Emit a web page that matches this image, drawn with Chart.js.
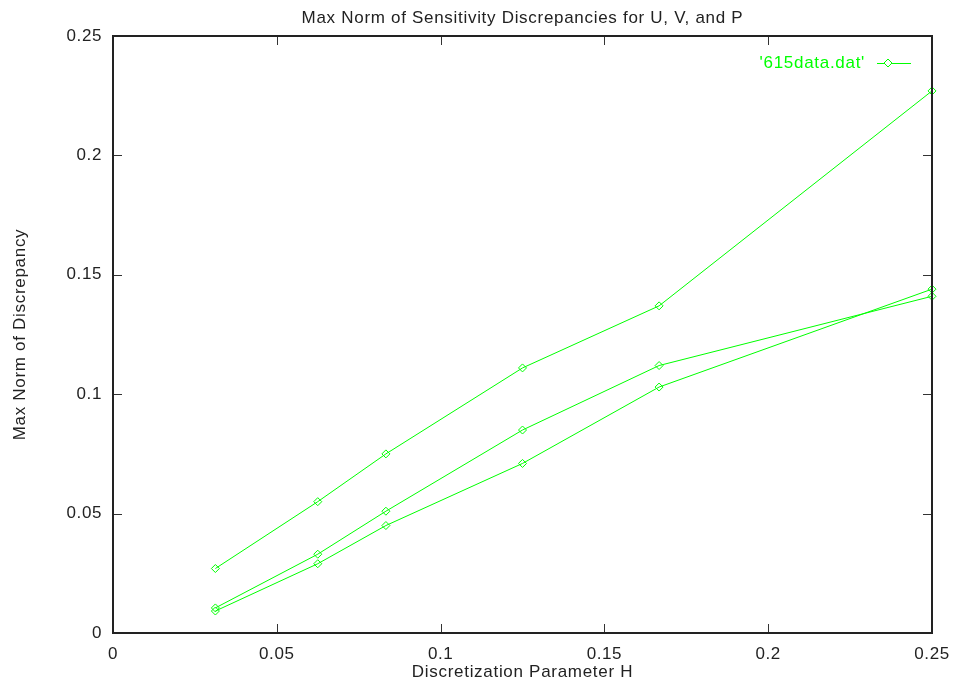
<!DOCTYPE html>
<html>
<head>
<meta charset="utf-8">
<title>Max Norm of Sensitivity Discrepancies</title>
<script src="https://cdn.jsdelivr.net/npm/chart.js@4.4.1/dist/chart.umd.min.js"></script>
<style>
    html, body { margin: 0; padding: 0; background: #ffffff; }
    canvas { display: block; }
</style>
</head>
<body>
<canvas id="chart" width="953" height="685"></canvas>
<script>
// Discretization parameter H (x values)
const hValues = [0.03125, 0.0625, 0.0833, 0.125, 0.1667, 0.25];

// Three blocks of '615data.dat' (one per variable)
const blockU = [0.027, 0.055, 0.075, 0.111, 0.137, 0.227];
const blockV = [0.0105, 0.033, 0.051, 0.085, 0.112, 0.141];
const blockP = [0.0092, 0.029, 0.045, 0.071, 0.103, 0.144];

// Tick labels
const xTicks = [0, 0.05, 0.1, 0.15, 0.2, 0.25];
const yTicks = [0, 0.05, 0.1, 0.15, 0.2, 0.25];

const GREEN = '#00ff00';
const TEXT = '#222222';
const FONT = '"Liberation Sans", Arial, sans-serif';

// gnuplot separates blocks with blank lines -> gaps in one dataset
function buildPoints(blocks) {
    const pts = [];
    blocks.forEach((block, i) => {
        if (i > 0) pts.push({ x: hValues[hValues.length - 1], y: null });
        block.forEach((v, j) => pts.push({ x: hValues[j], y: v }));
    });
    return pts;
}

// Frame, inward ticks, titles and key, drawn like gnuplot
const gnuplotDecor = {
    id: 'gnuplotDecor',
    afterDraw(chart) {
        const { ctx, chartArea: a, scales } = chart;
        const tick = 9;
        ctx.save();

        // inward ticks on all four sides
        ctx.strokeStyle = '#333333';
        ctx.lineWidth = 1;
        ctx.beginPath();
        xTicks.forEach(v => {
            const px = Math.round(scales.x.getPixelForValue(v)) + 0.5;
            ctx.moveTo(px, a.bottom); ctx.lineTo(px, a.bottom - tick);
            ctx.moveTo(px, a.top); ctx.lineTo(px, a.top + tick);
        });
        yTicks.forEach(v => {
            const py = Math.round(scales.y.getPixelForValue(v)) + 0.5;
            ctx.moveTo(a.left, py); ctx.lineTo(a.left + tick, py);
            ctx.moveTo(a.right, py); ctx.lineTo(a.right - tick, py);
        });
        ctx.stroke();

        // border
        ctx.strokeStyle = '#222222';
        ctx.lineWidth = 2;
        ctx.strokeRect(a.left, a.top, a.right - a.left, a.bottom - a.top);

        // titles
        ctx.fillStyle = TEXT;
        ctx.font = '17px ' + FONT;
        ctx.letterSpacing = '0.7px';
        ctx.textAlign = 'center';
        ctx.textBaseline = 'middle';
        const cx = (a.left + a.right) / 2;
        ctx.fillText('Max Norm of Sensitivity Discrepancies for U, V, and P', cx, 18);
        ctx.fillText('Discretization Parameter H', cx, 672);

        ctx.save();
        ctx.translate(20, (a.top + a.bottom) / 2);
        ctx.rotate(-Math.PI / 2);
        ctx.fillText('Max Norm of Discrepancy', 0, 0);
        ctx.restore();

        // key: text, then line sample with marker
        const ds = chart.data.datasets[0];
        const ky = 63;
        ctx.fillStyle = GREEN;
        ctx.textAlign = 'right';
        ctx.fillText(ds.label, 865, ky);

        ctx.strokeStyle = GREEN;
        ctx.lineWidth = 1;
        ctx.beginPath();
        ctx.moveTo(877, ky + 0.5);
        ctx.lineTo(911, ky + 0.5);
        ctx.stroke();

        const mx = 888, r = 4;
        ctx.beginPath();
        ctx.moveTo(mx, ky - r);
        ctx.lineTo(mx + r, ky);
        ctx.lineTo(mx, ky + r);
        ctx.lineTo(mx - r, ky);
        ctx.closePath();
        ctx.fillStyle = '#ffffff';
        ctx.fill();
        ctx.stroke();

        ctx.restore();
    }
};

const whiteBackground = {
    id: 'whiteBackground',
    beforeDraw(chart) {
        const { ctx, width, height } = chart;
        ctx.save();
        ctx.fillStyle = '#ffffff';
        ctx.fillRect(0, 0, width, height);
        ctx.restore();
        // gnuplot's text is set a little loose
        ctx.letterSpacing = '0.6px';
    }
};

new Chart(document.getElementById('chart'), {
    type: 'line',
    data: {
        datasets: [{
            label: "'615data.dat'",
            data: buildPoints([blockU, blockV, blockP]),
            borderColor: GREEN,
            borderWidth: 1,
            backgroundColor: 'rgba(0,0,0,0)',
            pointStyle: 'rectRot',
            pointRadius: 4,
            pointBorderColor: GREEN,
            pointBackgroundColor: 'rgba(0,0,0,0)',
            pointBorderWidth: 1,
            tension: 0,
            fill: false,
            spanGaps: false,
            clip: 8
        }]
    },
    options: {
        responsive: false,
        animation: false,
        layout: {
            padding: { left: 0, right: 21, top: 36, bottom: 0 }
        },
        plugins: {
            legend: { display: false },
            title: { display: false },
            tooltip: { enabled: false }
        },
        scales: {
            x: {
                type: 'linear',
                min: 0,
                max: 0.25,
                afterBuildTicks(scale) {
                    scale.ticks = xTicks.map(v => ({ value: v }));
                },
                afterFit(scale) {
                    scale.height = 52;
                    scale.paddingLeft = 0;
                    scale.paddingRight = 0;
                },
                grid: { display: false, drawTicks: false },
                border: { display: false },
                ticks: {
                    color: TEXT,
                    padding: 11,
                    maxRotation: 0,
                    font: { family: FONT, size: 17 },
                    callback: v => String(+v.toFixed(4))
                }
            },
            y: {
                type: 'linear',
                min: 0,
                max: 0.25,
                afterBuildTicks(scale) {
                    scale.ticks = yTicks.map(v => ({ value: v }));
                },
                afterFit(scale) {
                    scale.width = 113;
                    scale.paddingTop = 0;
                    scale.paddingBottom = 0;
                },
                grid: { display: false, drawTicks: false },
                border: { display: false },
                ticks: {
                    color: TEXT,
                    padding: 11,
                    font: { family: FONT, size: 17 },
                    callback: v => String(+v.toFixed(4))
                }
            }
        }
    },
    plugins: [whiteBackground, gnuplotDecor]
});
</script>
</body>
</html>
